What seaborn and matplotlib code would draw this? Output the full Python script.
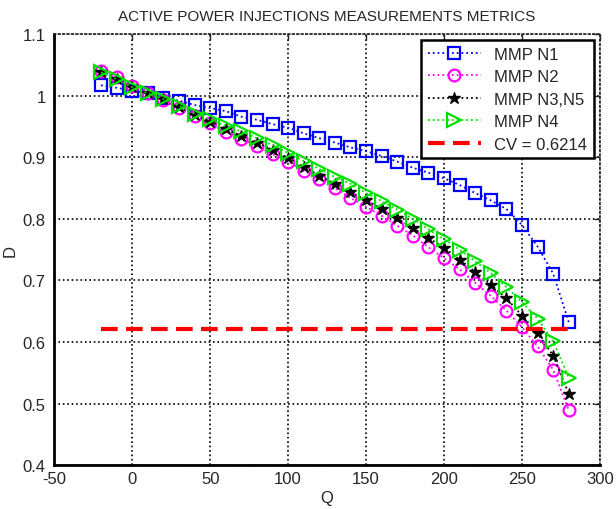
import pandas as pd
import matplotlib.pyplot as plt
import matplotlib.ticker as mticker
import seaborn as sns

# Data
q = [-20, -10, 0, 10, 20, 30, 40, 50, 60, 70, 80, 90, 100, 110, 120, 130,
     140, 150, 160, 170, 180, 190, 200, 210, 220, 230, 240, 250, 260, 270, 280]

d_n1 = [1.017, 1.013, 1.008, 1.004, 0.997, 0.992, 0.985, 0.980, 0.975, 0.966,
        0.961, 0.954, 0.948, 0.939, 0.931, 0.924, 0.916, 0.910, 0.902, 0.893,
        0.883, 0.875, 0.866, 0.855, 0.842, 0.830, 0.816, 0.790, 0.755, 0.711, 0.632]
d_n2 = [1.040, 1.030, 1.016, 1.004, 0.993, 0.980, 0.967, 0.955, 0.941, 0.930,
        0.919, 0.905, 0.893, 0.878, 0.865, 0.850, 0.834, 0.820, 0.805, 0.789,
        0.773, 0.754, 0.736, 0.718, 0.696, 0.675, 0.651, 0.624, 0.593, 0.555, 0.489]
d_n3n5 = [1.039, 1.028, 1.015, 1.004, 0.994, 0.982, 0.969, 0.958, 0.946, 0.935,
          0.924, 0.912, 0.899, 0.885, 0.870, 0.857, 0.843, 0.831, 0.816, 0.801,
          0.785, 0.769, 0.753, 0.734, 0.714, 0.693, 0.671, 0.643, 0.614, 0.578, 0.516]
d_n4 = [1.038, 1.027, 1.014, 1.004, 0.995, 0.984, 0.971, 0.962, 0.951, 0.942,
        0.931, 0.920, 0.907, 0.894, 0.881, 0.868, 0.857, 0.842, 0.829, 0.815,
        0.800, 0.783, 0.767, 0.750, 0.731, 0.712, 0.689, 0.665, 0.638, 0.601, 0.542]
cv = 0.6214
cv_q = [-20, 280]

sns.set_style("white")
plt.rcParams['font.family'] = ['Liberation Sans', 'DejaVu Sans']
plt.rcParams['axes.unicode_minus'] = False

df = pd.DataFrame({"Q": q, "N1": d_n1, "N2": d_n2, "N3N5": d_n3n5, "N4": d_n4})

fig = plt.figure(figsize=(6.16, 5.1), dpi=100)
ax = fig.add_axes([0.088, 0.086, 0.886, 0.845])

sns.lineplot(data=df, x="Q", y="N1", ax=ax, color="#0000ff", linestyle=":",
             marker="s", markersize=9, markerfacecolor="none",
             markeredgecolor="#0000ff", markeredgewidth=1.6, linewidth=1.3,
             label="MMP N1")
sns.lineplot(data=df, x="Q", y="N2", ax=ax, color="#ff00ff", linestyle=":",
             marker="o", markersize=8.5, markerfacecolor="none",
             markeredgecolor="#ff00ff", markeredgewidth=1.6, linewidth=1.3,
             label="MMP N2")
sns.lineplot(data=df, x="Q", y="N3N5", ax=ax, color="black", linestyle=":",
             marker="*", markersize=9, markerfacecolor="black",
             markeredgecolor="black", markeredgewidth=1.0, linewidth=1.3,
             label="MMP N3,N5")
sns.lineplot(data=df, x="Q", y="N4", ax=ax, color="#00e000", linestyle=":",
             marker=">", markersize=9.5, markerfacecolor="none",
             markeredgecolor="#00e000", markeredgewidth=1.6, linewidth=1.3,
             label="MMP N4")
sns.lineplot(x=cv_q, y=[cv, cv], ax=ax, color="#ff0000", linestyle=(0, (4, 2)),
             linewidth=3, label="CV = 0.6214")

ax.set_xlim(-50, 300)
ax.set_ylim(0.4, 1.1)
ax.set_xticks([-50, 0, 50, 100, 150, 200, 250, 300])
ax.set_yticks([0.4, 0.5, 0.6, 0.7, 0.8, 0.9, 1.0, 1.1])
ax.yaxis.set_major_formatter(mticker.FuncFormatter(lambda v, p: "%g" % round(v, 2)))
ax.grid(True, color="black", linestyle=":", linewidth=1.2)
ax.set_axisbelow(True)

for side in ["top", "right"]:
    ax.spines[side].set_linestyle(":")
    ax.spines[side].set_linewidth(1.2)
for side in ["left", "bottom"]:
    ax.spines[side].set_linewidth(2)
    ax.spines[side].set_color("black")
ax.tick_params(direction="in", length=4, labelsize=12, width=1, pad=4,
               top=True, right=True)
ax.tick_params(axis="y", pad=6)

ax.set_title("ACTIVE POWER INJECTIONS MEASUREMENTS METRICS", fontsize=11, pad=10)
ax.set_xlabel("Q", fontsize=12, labelpad=3)
ax.set_ylabel("D", fontsize=12, labelpad=4, rotation=90)

leg = ax.legend(loc="upper right", fontsize=12, fancybox=False, framealpha=1,
                edgecolor="black", handlelength=3.2, borderaxespad=0.35,
                labelspacing=0.45, borderpad=0.4)
leg.get_frame().set_linewidth(1.8)

fig.savefig("out.png", dpi=100)
